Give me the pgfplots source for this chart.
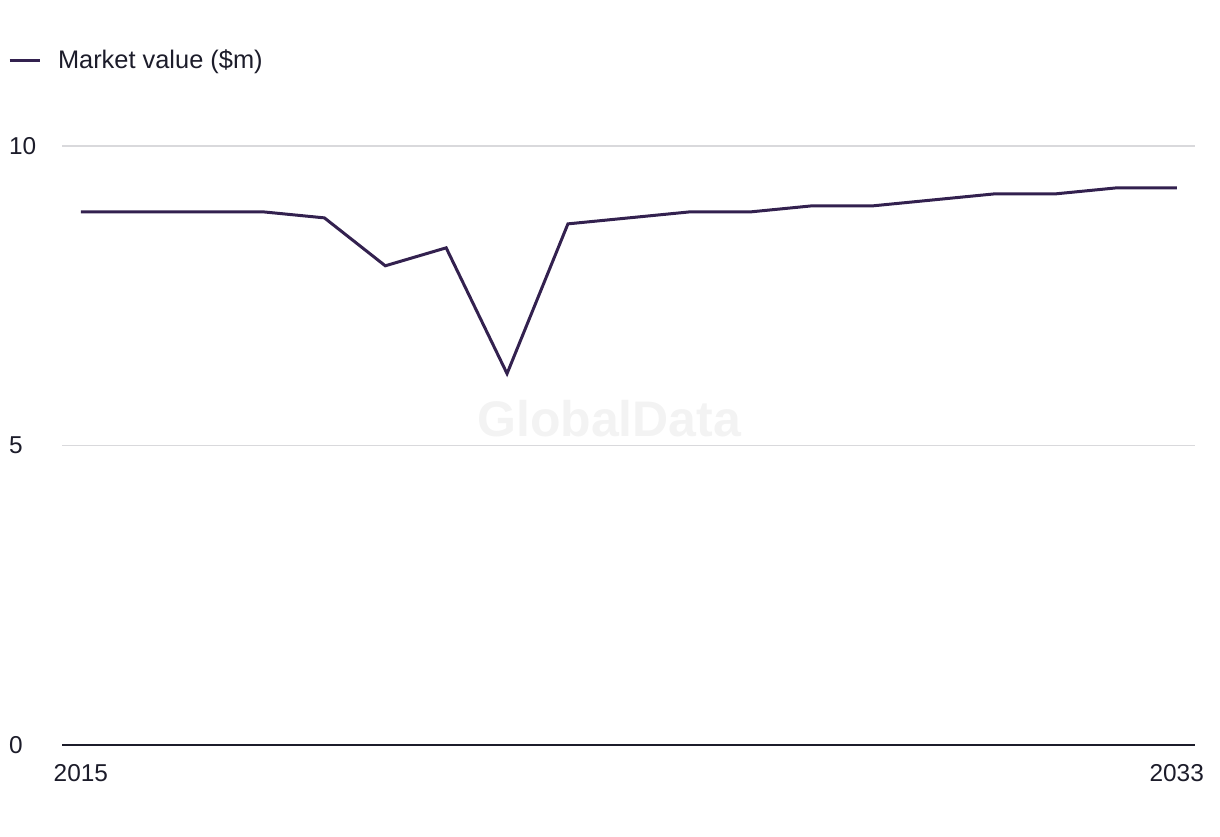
\documentclass[border=0pt]{standalone}
\usepackage{fontspec}
\setmainfont{Liberation Sans}
\usepackage{pgfplots}
\pgfplotsset{compat=1.18}
\definecolor{linec}{HTML}{33214F}
\definecolor{txt}{HTML}{1C1C2A}
\definecolor{gridc}{HTML}{D9D9DC}
\definecolor{wm}{HTML}{F3F3F3}
\begin{document}
\begin{tikzpicture}[x=1pt,y=1pt]
\path[use as bounding box] (0,0) rectangle (610,418);
\begin{axis}[
  at={(31pt,45.5pt)}, anchor=origin,
  scale only axis, width=566.5pt, height=299.5pt,
  xmin=2014.69, xmax=2033.3, ymin=0, ymax=10,
  axis x line=bottom, axis y line=left,
  y axis line style={draw=none},
  x axis line style={-, line width=1pt, color=txt},
  major tick length=0pt,
  ytick={0,5,10}, xtick={2015,2033},
  xticklabel style={/pgf/number format/1000 sep={}, yshift=-6pt},
  ymajorgrids, grid style={gridc, line width=0.6pt},
  yticklabel style={anchor=west, xshift=-30pt},
  tick label style={font=\fontsize{12.2}{14}\selectfont, text=txt},
  /pgf/number format/assume math mode=true,
  clip=false,
  legend style={at={(axis description cs:-0.048,1.142)}, anchor=west, draw=none, fill=none,
    inner sep=0pt, font=\fontsize{12.7}{15}\selectfont, text=txt,
    /tikz/every odd column/.append style={column sep=6.5pt}},
  legend cell align=left,
  legend image code/.code={\draw[#1, line width=1.5pt] (0pt,0pt) -- (15pt,0pt);},
]
\node[font=\fontsize{25}{28}\selectfont\bfseries, text=wm] at (axis description cs:0.483,0.545) {GlobalData};
\addplot[linec, line width=1.5pt] coordinates {
(2015,8.9) (2016,8.9) (2017,8.9) (2018,8.9) (2019,8.8) (2020,8.0) (2021,8.3)
(2022,6.2) (2023,8.7) (2024,8.8) (2025,8.9) (2026,8.9) (2027,9.0) (2028,9.0)
(2029,9.1) (2030,9.2) (2031,9.2) (2032,9.3) (2033,9.3)};
\addlegendentry{Market value (\$m)}
\end{axis}
\end{tikzpicture}
\end{document}
